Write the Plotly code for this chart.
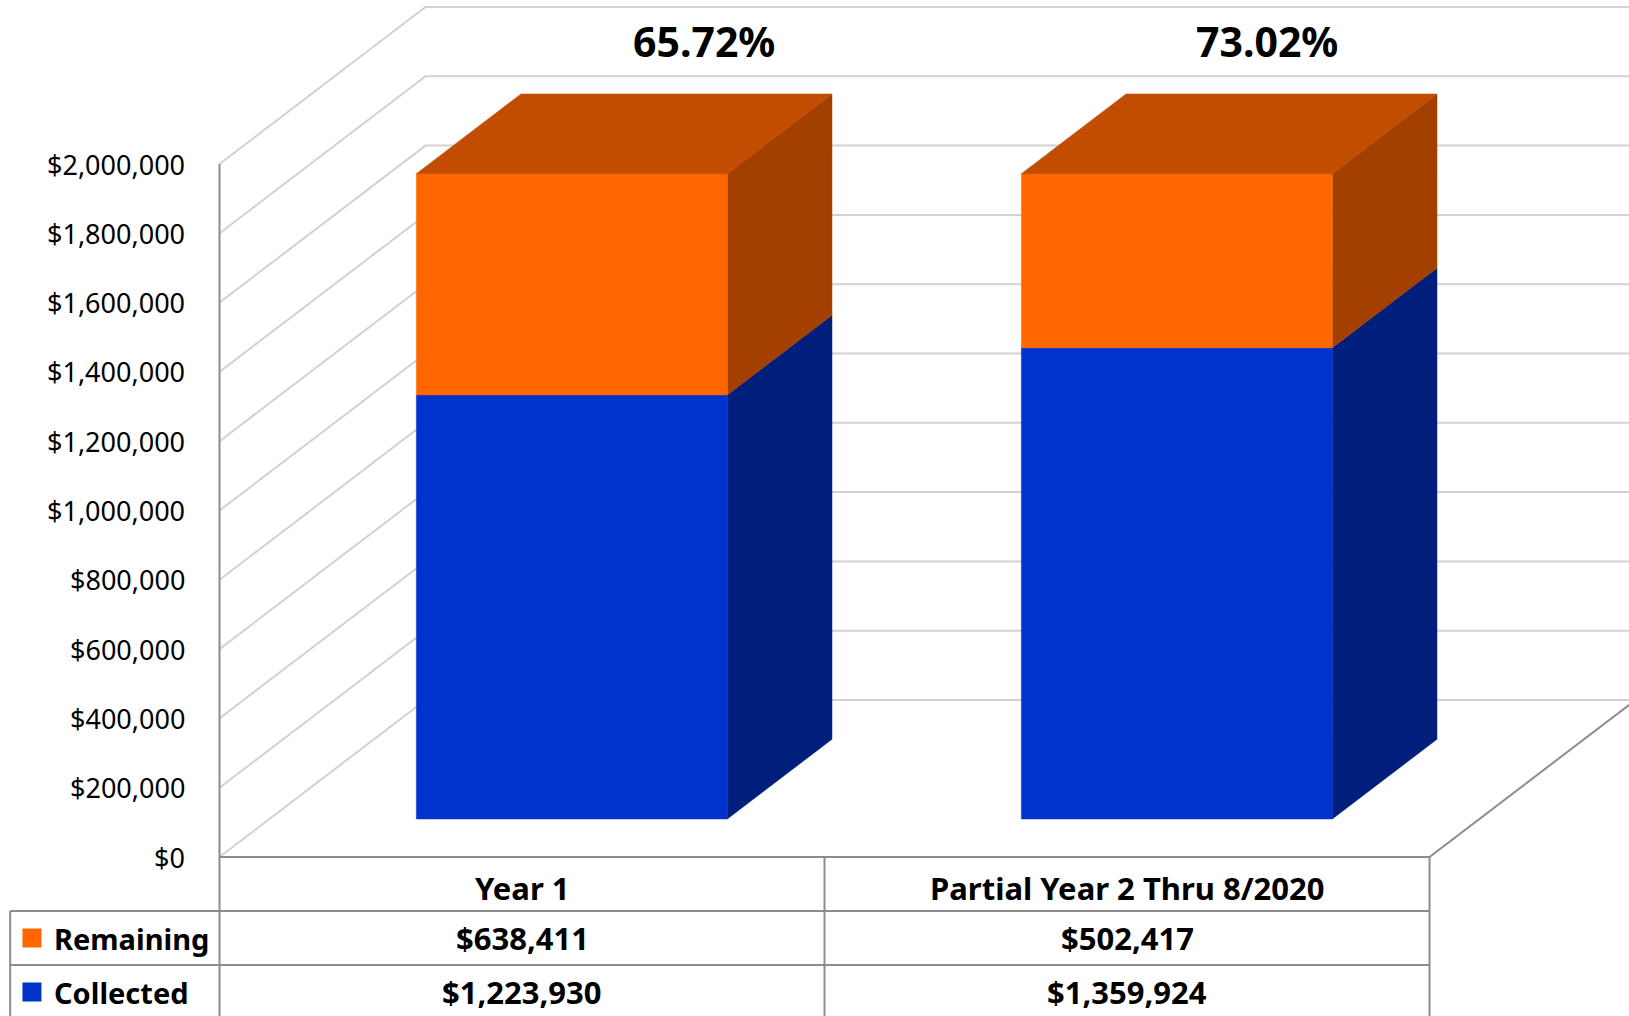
import plotly.graph_objects as go

# data
categories = ["Year 1", "Partial Year 2 Thru 8/2020"]
series_names = ["Remaining", "Collected"]
remaining = [638411, 502417]
collected = [1223930, 1359924]
tick_values = [0, 200000, 400000, 600000, 800000, 1000000,
               1200000, 1400000, 1600000, 1800000, 2000000]
tick_labels = [f"${v:,}" for v in tick_values]

totals = [c + r for c, r in zip(collected, remaining)]
pct_labels = [f"{c / t:.2%}" for c, t in zip(collected, totals)]

# === layout / projection constants ===
W, H = 1629, 1016
Y_PER_PX = 2000000 / 693          # value units per screen pixel
X_PER_PX = 1 / 605                # category units per screen pixel
X_RANGE = [-522 * X_PER_PX, (W - 522) * X_PER_PX]
Y_RANGE = [-(H - 857) * Y_PER_PX, 857 * Y_PER_PX]
DX = 206 * X_PER_PX               # oblique depth offset
DY = 157 * Y_PER_PX
HALF_W = 0.257
D0, D1 = 0.242, 0.75
ROW = 54 * Y_PER_PX
LEFT_X = -0.5
RIGHT_X = 1.5
TABLE_LEFT = -0.846
PCT_X_OFFSET = [0.30, 0.232]      # label placement relative to category
PCT_Y = (857 - 41) * Y_PER_PX

BLUE, BLUE_SIDE = "rgb(0,51,204)", "rgb(0,31,124)"
ORANGE, ORANGE_SIDE, ORANGE_TOP = "rgb(255,102,0)", "rgb(163,64,0)", "rgb(194,77,0)"
GRID = "rgb(210,210,210)"
AXIS = "rgb(140,140,140)"
FONT = "Noto Sans"


def proj(x, v, d):
    return x + d * DX, v + d * DY


def polyline(points):
    xs, ys = [], []
    for seg in points:
        for p in seg:
            px, py = proj(*p)
            xs.append(px)
            ys.append(py)
        xs.append(None)
        ys.append(None)
    return xs, ys


fig = go.Figure()

# === walls: gridlines ===
grid_segs = [[(LEFT_X, v, 0), (LEFT_X, v, 1), (RIGHT_X, v, 1)] for v in tick_values]
gx, gy = polyline(grid_segs)
fig.add_trace(go.Scatter(x=gx, y=gy, mode="lines",
                         line=dict(color=GRID, width=2), hoverinfo="skip"))

# === axis lines + table grid ===
axis_segs = [
    [(LEFT_X, tick_values[-1], 0), (LEFT_X, -3 * ROW, 0)],
    [(LEFT_X, 0, 0), (RIGHT_X, 0, 0), (RIGHT_X, 0, 1)],
    [(RIGHT_X, 0, 0), (RIGHT_X, -3 * ROW, 0)],
    [(0.5, 0, 0), (0.5, -3 * ROW, 0)],
    [(TABLE_LEFT, -ROW, 0), (RIGHT_X, -ROW, 0)],
    [(TABLE_LEFT, -2 * ROW, 0), (RIGHT_X, -2 * ROW, 0)],
    [(TABLE_LEFT, -ROW, 0), (TABLE_LEFT, -3 * ROW, 0)],
]
ax, ay = polyline(axis_segs)
fig.add_trace(go.Scatter(x=ax, y=ay, mode="lines",
                         line=dict(color=AXIS, width=2), hoverinfo="skip"))


def face(pts, color):
    xs, ys = zip(*[proj(*p) for p in pts])
    fig.add_trace(go.Scatter(
        x=list(xs) + [xs[0]], y=list(ys) + [ys[0]],
        mode="lines", fill="toself", fillcolor=color,
        line=dict(color=color, width=0.5), hoverinfo="skip"))


# === 3D stacked bars ===
for i in range(len(categories)):
    x0, x1 = i - HALF_W, i + HALF_W
    segs = [(0, collected[i], BLUE, BLUE_SIDE, None),
            (collected[i], totals[i], ORANGE, ORANGE_SIDE, ORANGE_TOP)]
    for lo, hi, front, side, top in segs:
        face([(x1, lo, D0), (x1, lo, D1), (x1, hi, D1), (x1, hi, D0)], side)
        face([(x0, lo, D0), (x1, lo, D0), (x1, hi, D0), (x0, hi, D0)], front)
        if top:
            face([(x0, hi, D0), (x1, hi, D0), (x1, hi, D1), (x0, hi, D1)], top)

# === legend keys in table ===
fig.add_trace(go.Scatter(
    x=[-0.81, -0.81], y=[-1.5 * ROW, -2.5 * ROW], mode="markers",
    marker=dict(symbol="square", size=19, color=[ORANGE, BLUE]),
    hoverinfo="skip"))

annotations = []
for v, lab in zip(tick_values, tick_labels):
    annotations.append(dict(x=-0.553, y=v, text=lab, xanchor="right",
                            yanchor="middle", showarrow=False,
                            font=dict(family=FONT, size=27, color="black")))

bold = dict(family=FONT, size=31, color="black")
for i, cat in enumerate(categories):
    annotations.append(dict(x=i, y=-0.57 * ROW, text=f"<b>{cat}</b>",
                            showarrow=False, font=bold))
    annotations.append(dict(x=i, y=-1.5 * ROW, text=f"<b>${remaining[i]:,}</b>",
                            showarrow=False, font=bold))
    annotations.append(dict(x=i, y=-2.5 * ROW, text=f"<b>${collected[i]:,}</b>",
                            showarrow=False, font=bold))
    annotations.append(dict(x=i + PCT_X_OFFSET[i], y=PCT_Y,
                            text=f"<b>{pct_labels[i]}</b>", showarrow=False,
                            font=dict(family=FONT, size=41, color="black")))

for name, y in zip(series_names, [-1.5 * ROW, -2.5 * ROW]):
    annotations.append(dict(x=-0.777, y=y, text=f"<b>{name}</b>", xanchor="left",
                            showarrow=False,
                            font=dict(family=FONT, size=29, color="black")))

fig.update_layout(
    width=W, height=H,
    margin=dict(l=0, r=0, t=0, b=0),
    paper_bgcolor="white", plot_bgcolor="white",
    showlegend=False,
    xaxis=dict(range=X_RANGE, visible=False, fixedrange=True),
    yaxis=dict(range=Y_RANGE, visible=False, fixedrange=True),
    annotations=annotations,
)

fig.write_html("out.html", config={"displayModeBar": False},
               post_script="document.body.style.margin='0';")
